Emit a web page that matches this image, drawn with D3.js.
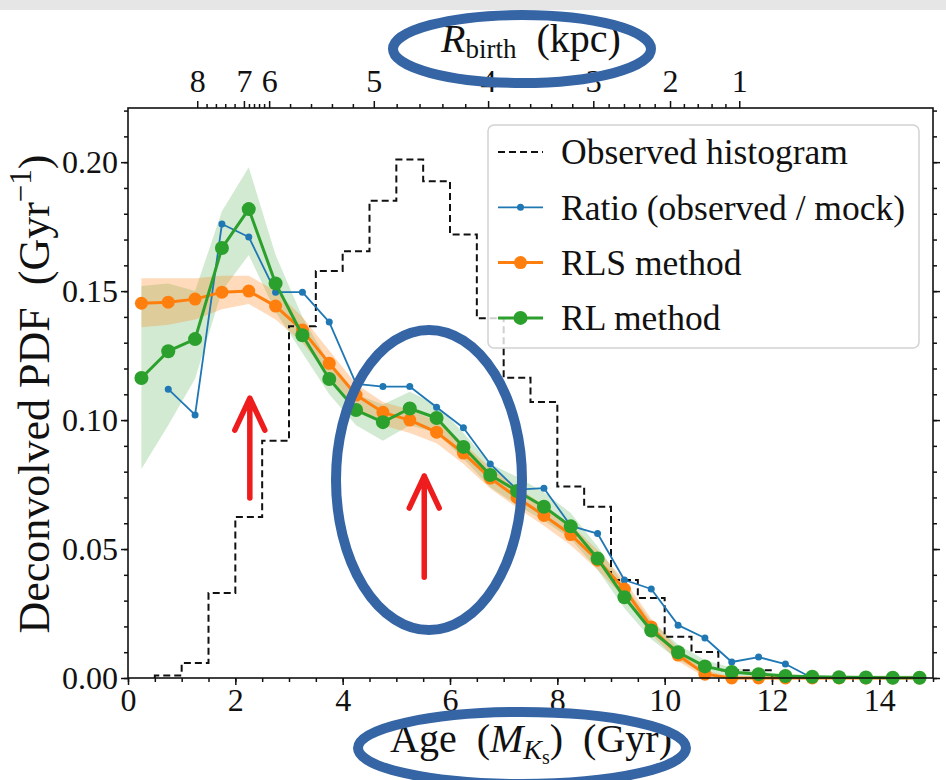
<!DOCTYPE html>
<html>
<head>
<meta charset="utf-8">
<script src="https://cdn.jsdelivr.net/npm/d3@7"></script>
<style>
  body { margin: 0; background: #fff; }
  svg text { font-family: "Liberation Serif", "Times New Roman", serif; fill: #111; white-space: pre; }
</style>
</head>
<body>
<svg id="chart" width="946" height="780"></svg>
<script>
/* CONSTANTS AND GLOBALS */
const width = 946, height = 780,
      margin = {top: 108, right: 13, bottom: 102, left: 128};

/* DATA */
const ages = [0.25, 0.75, 1.25, 1.75, 2.25, 2.75, 3.25, 3.75, 4.25, 4.75,
              5.25, 5.75, 6.25, 6.75, 7.25, 7.75, 8.25, 8.75, 9.25, 9.75,
              10.25, 10.75, 11.25, 11.75, 12.25, 12.75, 13.25, 13.75, 14.25, 14.75];

// observed histogram: bin edges + heights
const histEdges = [0.5, 1.0, 1.5, 2.0, 2.5, 3.0, 3.5, 4.0, 4.5, 5.0, 5.5, 6.0,
                   6.5, 7.0, 7.5, 8.0, 8.5, 9.0, 9.5, 10.0, 10.5, 11.0, 11.5, 12.0];
const histValues = [0.001, 0.0058, 0.033, 0.0624, 0.092, 0.1364, 0.1578, 0.1655, 0.185, 0.201,
                    0.1926, 0.172, 0.1395, 0.1164, 0.107, 0.0742, 0.0664, 0.038, 0.031,
                    0.016, 0.0101, 0.003, 0.003];

// ratio (observed / mock)
const ratioAges = [0.75, 1.25, 1.75, 2.25, 2.75, 3.25, 3.75, 4.25, 4.75, 5.25, 5.75, 6.25, 6.75,
                   7.25, 7.75, 8.25, 8.75, 9.25, 9.75, 10.25, 10.75, 11.25, 11.75, 12.25, 12.75];
const ratioValues = [0.112, 0.102, 0.176, 0.171, 0.1496, 0.1496, 0.138, 0.114, 0.113, 0.113, 0.105,
                     0.097, 0.083, 0.073, 0.0736, 0.059, 0.056, 0.038, 0.0345, 0.0205, 0.0155,
                     0.0062, 0.0081, 0.0054, 0.0];

// RLS method
const rlsValues = [0.1453, 0.1457, 0.1469, 0.1496, 0.150, 0.1442, 0.1349, 0.122, 0.1097, 0.103,
                   0.100, 0.0953, 0.0872, 0.0775, 0.070, 0.063, 0.0556, 0.0457, 0.0345, 0.0198,
                   0.0089, 0.0015, 0, 0, 0, 0, 0, 0, 0, 0];
const rlsLow  = [0.136, 0.137, 0.139, 0.143, 0.145, 0.139, 0.130, 0.117, 0.105, 0.098,
                 0.095, 0.091, 0.083, 0.0735, 0.066, 0.059, 0.0515, 0.042, 0.031, 0.017,
                 0.0065, 0.0003, 0, 0, 0, 0, 0, 0, 0, 0];
const rlsHigh = [0.155, 0.155, 0.155, 0.156, 0.156, 0.150, 0.140, 0.127, 0.114, 0.107,
                 0.104, 0.0995, 0.091, 0.0815, 0.074, 0.067, 0.0595, 0.0495, 0.038, 0.023,
                 0.0115, 0.003, 0.0005, 0.0005, 0.0005, 0.0005, 0.0005, 0.0005, 0.0005, 0.0005];

// RL method
const rlValues = [0.1163, 0.1267, 0.1314, 0.1667, 0.1818, 0.153, 0.1329, 0.1159, 0.1039, 0.0992,
                  0.1045, 0.1008, 0.0896, 0.0787, 0.0725, 0.0664, 0.0588, 0.0463, 0.0313, 0.0184,
                  0.0100, 0.0045, 0.0023, 0.0015, 0.0008, 0.0005, 0.0003, 0.0002, 0.0001, 0.0001];
const rlLow  = [0.081, 0.098, 0.116, 0.150, 0.164, 0.142, 0.126, 0.110, 0.098, 0.092,
                0.098, 0.095, 0.085, 0.074, 0.067, 0.061, 0.054, 0.042, 0.027, 0.015,
                0.007, 0.002, 0.0008, 0.0004, 0.0002, 0, 0, 0, 0, 0];
const rlHigh = [0.152, 0.153, 0.150, 0.181, 0.198, 0.164, 0.140, 0.122, 0.110, 0.106,
                0.111, 0.106, 0.095, 0.083, 0.078, 0.072, 0.064, 0.051, 0.036, 0.022,
                0.013, 0.007, 0.004, 0.0026, 0.0015, 0.001, 0.001, 0.001, 0.001, 0.001];

// ticks
const xTicks = [0, 2, 4, 6, 8, 10, 12, 14];
const yTicks = [0, 0.05, 0.10, 0.15, 0.20];
const rTicks = [8, 7, 6, 5, 4, 3, 2, 1];                                   // R_birth (kpc)
const rTickAges = [1.29, 2.16, 2.63, 4.58, 6.71, 8.67, 10.10, 11.39];      // where they sit on the age axis

// annotations (in data units): red arrows
const arrows = [{age: 2.27, from: 0.0698, to: 0.1085}, {age: 5.52, from: 0.0391, to: 0.0783}];

const blue = "#1f77b4", orange = "#ff7f0e", green = "#2ca02c";

/* SCALES */
const svg = d3.select("#chart");
const xScale = d3.scaleLinear().domain([0, 15]).range([margin.left, width - margin.right]);
const yScale = d3.scaleLinear().domain([0, 0.221]).range([height - margin.bottom, margin.top]);
const rScale = d3.scaleLinear().domain(rTicks).range(rTickAges.map(a => xScale(a)));

const plotBottom = height - margin.bottom, plotRight = width - margin.right;

// light grey strip at the very top of the picture
svg.append("rect").attr("x", 0).attr("y", 0).attr("width", width).attr("height", 10).attr("fill", "#e6e6e6");

/* AXES */
function styleAxis(g, size) {
  g.attr("font-family", null).attr("font-size", size);
  g.select(".domain").remove();
  g.selectAll(".tick line").attr("stroke", "#111").attr("stroke-width", 1.5);
}

const xMinor = d3.range(0, 15.01, 0.5);
const yMinor = d3.range(0, 0.2205, 0.01);
const rMinor = d3.range(10, 81, 2).map(d => d / 10).filter(d => d % 1 !== 0);

svg.append("g").attr("transform", `translate(0,${plotBottom})`)
  .call(d3.axisBottom(xScale).tickValues(xMinor).tickSize(4).tickFormat(""))
  .call(g => styleAxis(g, 32));
svg.append("g").attr("transform", `translate(0,${plotBottom})`)
  .call(d3.axisBottom(xScale).tickValues(xTicks).tickSize(7).tickPadding(3).tickFormat(d3.format("d")))
  .call(g => styleAxis(g, 32));

svg.append("g").attr("transform", `translate(${margin.left},0)`)
  .call(d3.axisLeft(yScale).tickValues(yMinor).tickSize(4).tickFormat(""))
  .call(g => styleAxis(g, 32));
svg.append("g").attr("transform", `translate(${margin.left},0)`)
  .call(d3.axisLeft(yScale).tickValues(yTicks).tickSize(7).tickPadding(3).tickFormat(d3.format(".2f")))
  .call(g => styleAxis(g, 32));

svg.append("g").attr("transform", `translate(${plotRight},0)`)
  .call(d3.axisRight(yScale).tickValues(yMinor).tickSize(4).tickFormat(""))
  .call(g => styleAxis(g, 32));
svg.append("g").attr("transform", `translate(${plotRight},0)`)
  .call(d3.axisRight(yScale).tickValues(yTicks).tickSize(7).tickFormat(""))
  .call(g => styleAxis(g, 32));

svg.append("g").attr("transform", `translate(0,${margin.top})`)
  .call(d3.axisTop(rScale).tickValues(rMinor).tickSize(4).tickFormat(""))
  .call(g => styleAxis(g, 32));
svg.append("g").attr("transform", `translate(0,${margin.top})`)
  .call(d3.axisTop(rScale).tickValues(rTicks).tickSize(7).tickPadding(9).tickFormat(d3.format("d")))
  .call(g => styleAxis(g, 32));

/* AXIS LABELS */
const xLab = svg.append("text").attr("x", 531).attr("y", 752).attr("text-anchor", "middle").attr("font-size", 40);
xLab.append("tspan").text("Age  (");
xLab.append("tspan").attr("font-style", "italic").text("M");
xLab.append("tspan").attr("font-style", "italic").attr("font-size", 28).attr("dy", 7).text("K");
xLab.append("tspan").attr("font-size", 20).attr("dy", 5).text("s");
xLab.append("tspan").attr("dy", -12).text(")  (Gyr)");

const rLab = svg.append("text").attr("x", 531).attr("y", 52).attr("text-anchor", "middle").attr("font-size", 40);
rLab.append("tspan").attr("font-style", "italic").text("R");
rLab.append("tspan").attr("font-size", 27).attr("dy", 6).text("birth");
rLab.append("tspan").attr("dy", -6).text("  (kpc)");

const yLab = svg.append("text").attr("transform", "translate(49,394) rotate(-90)")
  .attr("text-anchor", "middle").attr("font-size", 44);
yLab.append("tspan").text("Deconvolved PDF  (Gyr");
yLab.append("tspan").attr("font-size", 31).attr("dy", -18).text("−1");
yLab.append("tspan").attr("dy", 18).text(")");

/* MARKS */
const plot = svg.append("g");

// uncertainty bands
const bandArea = (lo, hi) => d3.area()
  .x((d, i) => xScale(ages[i])).y0((d, i) => yScale(lo[i])).y1((d, i) => yScale(hi[i]));
plot.append("path").datum(ages).attr("d", bandArea(rlLow, rlHigh)).attr("fill", green).attr("fill-opacity", 0.22);
plot.append("path").datum(ages).attr("d", bandArea(rlsLow, rlsHigh)).attr("fill", orange).attr("fill-opacity", 0.28);

// observed histogram (step outline)
const histPts = [[histEdges[0], 0]]
  .concat(histValues.map((v, i) => [histEdges[i], v]))
  .concat([[histEdges[histEdges.length - 1], histValues[histValues.length - 1]],
           [histEdges[histEdges.length - 1], 0]]);
plot.append("path").datum(histPts)
  .attr("d", d3.line().x(d => xScale(d[0])).y(d => yScale(d[1])).curve(d3.curveStepAfter))
  .attr("fill", "none").attr("stroke", "#111").attr("stroke-width", 2).attr("stroke-dasharray", "7,4");

function series(xs, ys, color, lw, r) {
  const pts = xs.map((a, i) => [a, ys[i]]);
  plot.append("path").datum(pts)
    .attr("d", d3.line().x(d => xScale(d[0])).y(d => yScale(d[1])))
    .attr("fill", "none").attr("stroke", color).attr("stroke-width", lw).attr("stroke-linejoin", "round");
  plot.append("g").selectAll("circle").data(pts).join("circle")
    .attr("cx", d => xScale(d[0])).attr("cy", d => yScale(d[1])).attr("r", r).attr("fill", color);
}
series(ratioAges, ratioValues, blue, 1.8, 3.5);
series(ages, rlsValues, orange, 3, 6.5);
series(ages, rlValues, green, 3, 7);

// frame
svg.append("rect").attr("x", margin.left).attr("y", margin.top)
  .attr("width", plotRight - margin.left).attr("height", plotBottom - margin.top)
  .attr("fill", "none").attr("stroke", "#111").attr("stroke-width", 1.6);

/* LEGEND */
const legend = svg.append("g");
legend.append("rect").attr("x", 488).attr("y", 125).attr("width", 431).attr("height", 223).attr("rx", 6)
  .attr("fill", "#fff").attr("fill-opacity", 0.8).attr("stroke", "#d2d2d2").attr("stroke-width", 1.5);
const legendRows = [
  {label: "Observed histogram", color: "#111", lw: 2, r: 0, dash: "7,4"},
  {label: "Ratio (observed / mock)", color: blue, lw: 1.8, r: 3.5},
  {label: "RLS method", color: orange, lw: 3, r: 6.5},
  {label: "RL method", color: green, lw: 3, r: 7}
];
legendRows.forEach((row, i) => {
  const cy = 152 + i * 55.3;
  legend.append("line").attr("x1", 498).attr("x2", 543).attr("y1", cy).attr("y2", cy)
    .attr("stroke", row.color).attr("stroke-width", row.lw).attr("stroke-dasharray", row.dash || null);
  if (row.r) legend.append("circle").attr("cx", 520.5).attr("cy", cy).attr("r", row.r).attr("fill", row.color);
  legend.append("text").attr("x", 561).attr("y", cy).attr("dy", "0.35em").attr("font-size", 35.5).text(row.label);
});

/* ANNOTATIONS (red arrows, blue ellipses) */
const notes = svg.append("g");
arrows.forEach(a => {
  const ax = xScale(a.age), y0 = yScale(a.from), y1 = yScale(a.to);
  notes.append("path")
    .attr("d", `M${ax},${y0}L${ax},${y1}M${ax - 15},${y1 + 32}L${ax},${y1}L${ax + 15},${y1 + 32}`)
    .attr("fill", "none").attr("stroke", "#ee1c1c").attr("stroke-width", 5.5)
    .attr("stroke-linecap", "round").attr("stroke-linejoin", "round");
});
const ellipses = [
  {cx: 522, cy: 49, rx: 129, ry: 34},
  {cx: 429, cy: 480, rx: 93, ry: 150},
  {cx: 522, cy: 748, rx: 164, ry: 36}
];
notes.selectAll("ellipse").data(ellipses).join("ellipse")
  .attr("cx", d => d.cx).attr("cy", d => d.cy).attr("rx", d => d.rx).attr("ry", d => d.ry)
  .attr("fill", "none").attr("stroke", "#3565a5").attr("stroke-width", 10);
</script>
</body>
</html>
